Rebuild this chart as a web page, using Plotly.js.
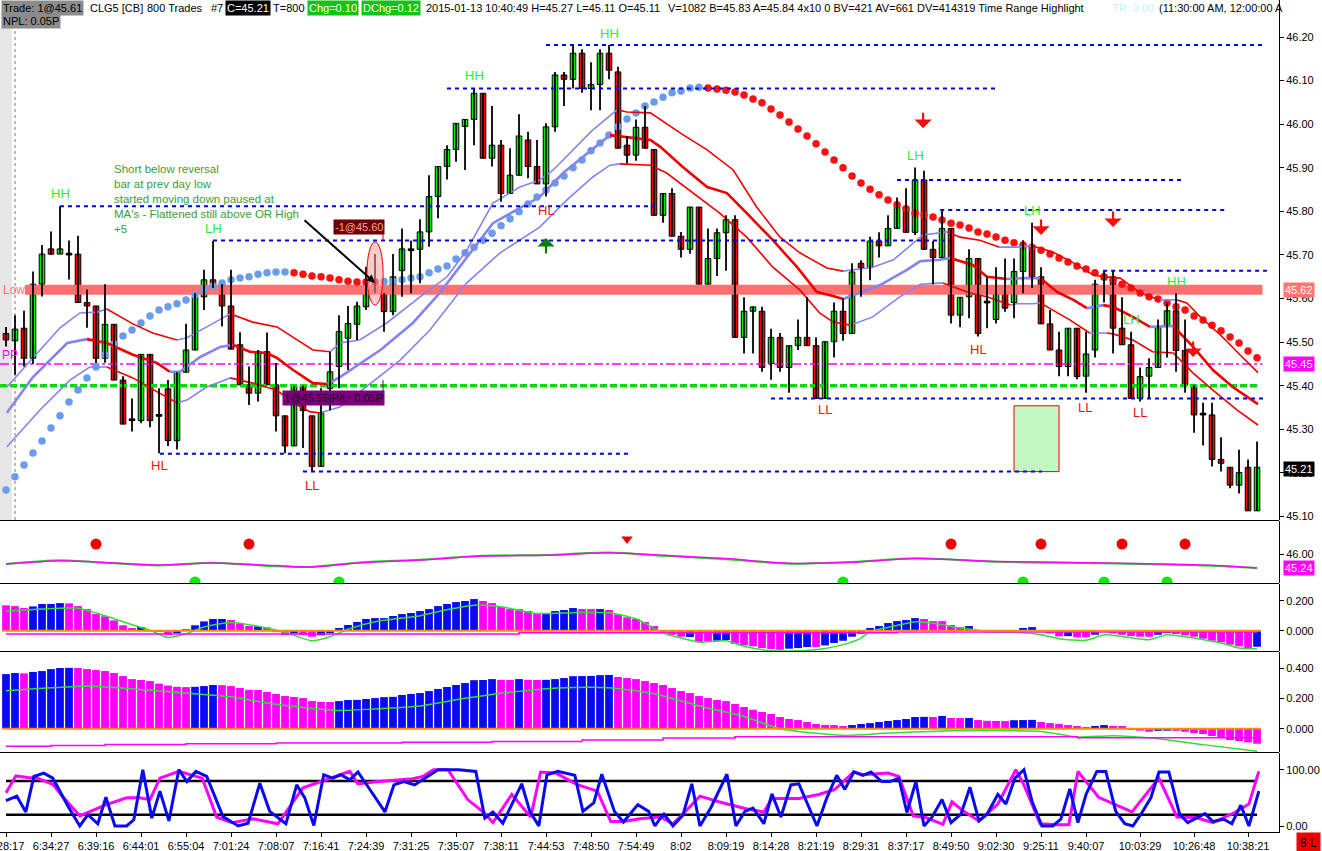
<!DOCTYPE html>
<html><head><meta charset="utf-8">
<script src="https://cdn.plot.ly/plotly-3.0.1.min.js"></script>
<style>html,body{margin:0;padding:0;background:#fff;overflow:hidden}#chart{width:1322px;height:851px}</style>
</head><body><div id="chart"></div>
<script>
// ---------------- DATA ----------------
const open = [45.52,45.503,45.532,45.463,45.633,45.714,45.702,45.70,45.702,45.591,45.583,45.463,45.541,45.413,45.32,45.32,45.472,45.33,45.393,45.274,45.431,45.482,45.604,45.643,45.633,45.583,45.494,45.402,45.383,45.478,45.402,45.331,45.262,45.40,45.331,45.215,
45.394,45.444,45.509,45.541,45.581,45.621,45.612,45.570,45.664,45.71,45.713,45.753,45.834,45.903,45.942,45.995,46.011,46.071,45.922,45.952,45.841,45.883,45.964,45.903,45.863,45.994,46.113,46.103,46.163,46.082,46.091,46.163,46.12,45.952,45.929,45.993,
45.942,45.791,45.841,45.743,45.713,45.81,45.633,45.692,45.751,45.781,45.511,45.571,45.571,45.451,45.511,45.442,45.492,45.511,45.492,45.371,45.501,45.571,45.52,45.681,45.671,45.732,45.721,45.761,45.81,45.752,45.872,45.713,45.694,45.761,45.562,
45.604,45.692,45.59,45.552,45.612,45.591,45.662,45.721,45.65,45.542,45.482,45.444,45.532,45.422,45.482,45.643,45.65,45.532,45.494,45.371,45.422,45.442,45.536,45.572,45.481,45.402,45.333,45.333,45.231,45.213,45.172,45.213,45.113];
const high = [45.535,45.562,45.572,45.662,45.723,45.754,45.812,45.733,45.744,45.621,45.583,45.633,45.541,45.422,45.371,45.472,45.472,45.394,45.413,45.431,45.542,45.612,45.666,45.732,45.633,45.666,45.523,45.444,45.482,45.522,45.452,45.331,45.40,45.40,45.331,45.394,
45.478,45.562,45.583,45.593,45.673,45.702,45.612,45.702,45.761,45.733,45.782,45.883,45.903,45.952,46.002,46.011,46.082,46.071,46.042,45.964,45.945,46.023,45.983,45.964,46.002,46.12,46.12,46.182,46.172,46.142,46.172,46.182,46.132,45.973,46.011,46.042,
45.942,45.841,45.853,45.753,45.81,45.81,45.761,45.761,45.791,45.791,45.603,45.581,45.581,45.531,45.521,45.492,45.552,45.603,45.511,45.501,45.591,45.60,45.681,45.688,45.742,45.752,45.791,45.832,45.853,45.901,45.893,45.732,45.803,45.761,45.603,
45.713,45.692,45.65,45.672,45.692,45.692,45.734,45.774,45.672,45.574,45.524,45.532,45.532,45.524,45.643,45.664,45.664,45.603,45.524,45.442,45.463,45.552,45.591,45.612,45.552,45.402,45.361,45.361,45.282,45.213,45.253,45.231,45.272];
const low = [45.49,45.425,45.444,45.45,45.605,45.70,45.702,45.644,45.591,45.533,45.452,45.453,45.413,45.312,45.295,45.314,45.305,45.245,45.262,45.254,45.431,45.482,45.574,45.624,45.536,45.484,45.402,45.356,45.364,45.402,45.295,45.245,45.262,45.257,45.203,45.215,
45.344,45.394,45.436,45.505,45.574,45.612,45.524,45.562,45.604,45.612,45.635,45.719,45.784,45.873,45.914,45.895,45.952,45.922,45.903,45.822,45.841,45.883,45.876,45.863,45.834,45.983,46.042,46.082,46.072,46.032,46.032,46.103,45.945,45.91,45.916,45.945,
45.791,45.774,45.743,45.694,45.703,45.633,45.633,45.652,45.664,45.511,45.474,45.474,45.432,45.414,45.432,45.384,45.482,45.492,45.371,45.371,45.465,45.503,45.52,45.604,45.642,45.694,45.721,45.761,45.752,45.746,45.713,45.633,45.694,45.543,45.534,
45.555,45.513,45.532,45.543,45.57,45.555,45.612,45.624,45.542,45.482,45.422,45.422,45.415,45.384,45.465,45.591,45.474,45.494,45.371,45.364,45.371,45.442,45.465,45.432,45.384,45.292,45.263,45.215,45.203,45.165,45.153,45.113,45.113];
const close = [45.505,45.53,45.463,45.633,45.702,45.702,45.714,45.70,45.591,45.583,45.463,45.541,45.413,45.312,45.32,45.472,45.32,45.33,45.274,45.431,45.482,45.604,45.643,45.633,45.583,45.484,45.402,45.383,45.478,45.402,45.331,45.262,45.40,45.343,45.215,45.338,
45.432,45.524,45.543,45.583,45.612,45.612,45.570,45.650,45.714,45.71,45.753,45.834,45.903,45.942,46.002,46.011,46.071,45.922,45.952,45.841,45.883,45.973,45.903,45.863,45.994,46.113,46.103,46.163,46.082,46.091,46.163,46.124,45.945,45.929,45.993,45.945,
45.791,45.841,45.743,45.713,45.81,45.633,45.692,45.751,45.781,45.511,45.571,45.581,45.442,45.511,45.442,45.492,45.511,45.492,45.371,45.501,45.571,45.52,45.661,45.671,45.732,45.721,45.761,45.81,45.752,45.872,45.713,45.694,45.761,45.562,45.603,
45.692,45.52,45.59,45.612,45.578,45.662,45.721,45.65,45.542,45.482,45.444,45.532,45.421,45.473,45.633,45.654,45.532,45.494,45.371,45.421,45.442,45.536,45.572,45.481,45.402,45.333,45.333,45.231,45.222,45.172,45.201,45.113,45.213];

const tickBars = [1,6,11,16,21,26,31,36,41,46,51,56,61,66,71,76,81,86,91,96,101,106,111,116,121,127,133,139];
const tickLabels = ['6:28:17','6:34:27','6:39:16','6:44:01','6:55:04','7:01:24','7:08:07','7:16:41','7:24:39','7:31:25','7:35:07','7:38:11','7:44:53','7:48:50','7:54:49','8:02','8:09:19','8:14:28','8:21:19','8:29:31','8:37:17','8:49:50','9:02:30','9:25:11','9:40:07','10:03:29','10:26:48','10:38:21'];
const priceTicks = [45.10,45.20,45.30,45.40,45.50,45.60,45.70,45.80,45.90,46.00,46.10,46.20];

// dotted moving average (one value per bar)
const dotMA = [45.161,45.191,45.218,45.246,45.273,45.303,45.331,45.363,45.390,45.418,
45.443,45.471,45.496,45.514,45.528,45.544,45.560,45.574,45.581,45.588,
45.597,45.608,45.620,45.629,45.636,45.643,45.647,45.650,45.656,45.659,
45.661,45.661,45.659,45.656,45.652,45.650,45.647,45.643,45.640,45.638,
45.638,45.638,45.639,45.640,45.643,45.647,45.650,45.659,45.668,45.675,
45.691,45.705,45.718,45.734,45.750,45.767,45.783,45.799,45.817,45.833,
45.849,45.865,45.881,45.900,45.918,45.939,45.957,45.975,45.994,46.012,
46.026,46.042,46.051,46.062,46.072,46.076,46.083,46.085,46.083,46.081,
46.078,46.074,46.067,46.058,46.049,46.035,46.021,46.005,45.989,45.973,
45.955,45.936,45.918,45.900,45.881,45.865,45.851,45.838,45.826,45.815,
45.806,45.796,45.792,45.787,45.780,45.773,45.769,45.762,45.753,45.748,
45.741,45.734,45.728,45.723,45.718,45.711,45.702,45.693,45.684,45.675,
45.668,45.659,45.650,45.643,45.633,45.624,45.613,45.604,45.599,45.590,
45.581,45.574,45.560,45.551,45.539,45.526,45.512,45.498,45.480,45.464];

// envelope lines (bar, price)
const upX = [1.1,4.0,7.0,9.2,11.1,12.2,15.1,17.3,20.0,21.1,23.3,25.9,28.4,31.1,33.7,35.1,37.0,38.1,40.3,43.3,47.0,50.0,52.2,55.1,58.1,60.3,61.8,64.0,66.2,68.9,70.0,72.6,73.7,75.9,78.9,81.8,84.4,87.0,89.2,92.2,94.0,97.3,99.6,102.9,105.6,107.0,109.2,111.4,113.3,115.0,117.3,119.6,121.8,122.9,124.8,127.0,129.2,131.1,132.2,133.7,135.9,138.1,140.1];
const upY = [45.397,45.464,45.533,45.567,45.569,45.576,45.542,45.521,45.505,45.510,45.535,45.565,45.546,45.535,45.500,45.482,45.478,45.498,45.505,45.544,45.604,45.650,45.711,45.819,45.856,45.872,45.895,45.941,45.987,46.033,46.028,46.026,46.010,45.980,45.941,45.895,45.810,45.741,45.705,45.670,45.663,45.672,45.689,45.746,45.753,45.741,45.734,45.718,45.718,45.721,45.707,45.682,45.654,45.650,45.647,45.613,45.597,45.597,45.590,45.558,45.517,45.471,45.430];
const midX = [1.1,4.0,7.8,10.0,12.2,15.1,17.8,19.2,20.3,22.6,24.8,26.2,28.1,30.0,31.1,32.9,35.1,36.7,38.1,42.6,46.2,49.2,52.2,55.1,58.1,60.3,62.9,65.6,68.1,72.6,73.7,76.2,78.9,81.1,83.3,86.2,88.9,91.1,92.9,94.0,98.1,101.1,102.6,104.8,105.9,108.4,110.0,112.2,114.0,115.9,117.8,119.6,121.1,122.9,124.0,126.2,128.1,130.0,130.7,132.9,135.1,137.3,140.1];
const midY = [45.338,45.420,45.498,45.507,45.498,45.471,45.452,45.432,45.432,45.466,45.489,45.494,45.478,45.475,45.464,45.436,45.406,45.404,45.420,45.482,45.544,45.613,45.695,45.773,45.808,45.833,45.888,45.934,45.975,45.964,45.948,45.902,45.856,45.842,45.796,45.734,45.672,45.615,45.606,45.599,45.631,45.666,45.686,45.689,45.693,45.677,45.650,45.645,45.647,45.647,45.615,45.597,45.578,45.585,45.581,45.558,45.535,45.537,45.537,45.489,45.436,45.397,45.358];
const lowX = [1.1,4.8,8.1,10.3,12.2,15.1,17.8,20.0,21.1,23.3,25.9,28.4,31.1,32.9,34.8,35.9,38.1,40.3,44.8,48.1,52.2,55.9,60.3,63.3,66.2,68.1,69.2,72.6,74.4,77.3,80.3,83.3,86.2,89.2,91.4,92.9,94.8,97.3,100.3,102.6,105.1,106.2,108.1,110.0,112.6,113.3,115.1,115.9,117.3,119.2,121.4,123.3,124.0,126.2,128.4,130.7,132.9,135.1,137.8,140.1];
const lowY = [45.260,45.345,45.413,45.443,45.443,45.418,45.386,45.361,45.367,45.397,45.418,45.406,45.390,45.361,45.340,45.338,45.351,45.386,45.459,45.528,45.636,45.705,45.764,45.826,45.879,45.906,45.909,45.906,45.888,45.842,45.796,45.741,45.672,45.620,45.567,45.546,45.539,45.558,45.604,45.633,45.636,45.627,45.613,45.604,45.585,45.588,45.588,45.590,45.574,45.551,45.521,45.521,45.519,45.505,45.478,45.475,45.429,45.390,45.344,45.310];

// swing levels
const lvlPrice = [45.812,45.733,45.244,45.203,46.182,46.082,45.872,45.803,45.664,45.371];
const lvlFrom  = [7.0,24.0,18.1,34.0,61.0,50.0,100.0,104.8,122.9,86.0];
const lvlTo    = [73.1,105.9,70.1,116.1,140.6,111.1,131.8,136.8,141.1,141.1];
const lowLevel = 45.62, ppLevel = 45.45, orHigh = 45.40, lastPrice = 45.21;

const swingText  = ['HH','HL','LH','LL','HH','HL','HH','LH','LL','HL','LH','LL','LH','LL','HH'];
const swingBar   = [7.1,18.0,24.0,35.0,53.0,61.0,68.0,102.0,92.0,109.0,115.0,120.9,126.1,127.0,131.0];
const swingPrice = [45.842,45.216,45.760,45.172,46.111,45.803,46.209,45.929,45.345,45.484,45.801,45.351,45.551,45.338,45.640];
const downArrowBar = [102.9,116,124,132.9];
const downArrowPrice = [45.991,45.746,45.764,45.466];
const upArrowBar = [61], upArrowPrice = [45.739];

// panel 2
const p2Bars = [1,7,11,18,24,31,35,40,47,54,61,68,74,81,88,95,102,111,121,128,135,140];
const p2Mag = [45.46,45.64,45.57,45.40,45.51,45.37,45.29,45.51,45.67,45.89,45.93,46.07,45.93,45.75,45.50,45.55,45.75,45.60,45.53,45.47,45.39,45.24];
const p2Grn = [45.46,45.66,45.55,45.38,45.53,45.33,45.30,45.53,45.69,45.90,45.95,46.08,45.91,45.72,45.47,45.57,45.77,45.58,45.51,45.45,45.36,45.24];
const p2RedBars = [11,28,106,116,125,132], p2RedVal = 46.54;
const p2RedTriBar = [70], p2RedTriVal = 46.81;
const p2GreenBars = [22,38,94,114,123,130], p2GreenVal = 44.48;

// panel 3 histogram
const p3Val = [.169,.164,.151,.162,.178,.178,.184,.182,.164,.144, .111,.096,.069,.036,.018,.024,-.004,-.009,-.027,-.016, .009,.036,.062,.078,.078,.071,.049,.031,.029,.022, -.009,-.027,-.018,-.027,-.040,-.031,-.016,.018,.038,.058, .078,.084,.084,.098,.111,.118,.131,.144,.164,.178, .191,.198,.211,.198,.184,.158,.144,.144,.131,.111, .118,.131,.138,.151,.144,.144,.144,.138,.111,.089, .078,.058,.031,-.010,-.027,-.040,-.042,-.076,-.071,-.067, -.062,-.089,-.098,-.104,-.116,-.122,-.127,-.120,-.116,-.109, -.109,-.098,-.082,-.067,-.040,-.020,.018,.031,.051,.064, .071,.084,.078,.064,.064,.038,.024,.031,-.004,-.011, -.011,-.011,-.004,.018,.024,-.004,-.018,-.038,-.036,-.044, -.044,-.027,-.007,-.018,-.027,-.036,-.040,-.040,-.027,-.016, -.022,-.031,-.040,-.053,-.067,-.078,-.093,-.104,-.116,-.107];
const p3Dir = [-1,-1,-1,1,1,1,1,-1,-1,-1, -1,-1,-1,-1,-1,1,-1,-1,-1,1, 1,1,1,1,1,-1,-1,-1,1,-1, -1,-1,1,-1,-1,1,1,1,1,1, 1,1,1,1,1,1,1,1,1,1, 1,1,1,-1,-1,-1,-1,-1,-1,-1, 1,1,1,1,-1,-1,1,-1,-1,-1, -1,-1,-1,-1,-1,-1,1,-1,-1,1, 1,-1,-1,-1,-1,-1,-1,1,1,1, -1,1,1,1,1,1,1,1,1,1, 1,1,-1,-1,-1,-1,-1,1,-1,-1, 1,-1,-1,1,1,-1,-1,-1,1,-1, -1,1,-1,-1,-1,-1,-1,-1,1,1, -1,-1,-1,-1,-1,-1,-1,-1,-1,1];
const p3SigBar = [1,5,9,12,15,17,19,21,23,26,29,32,35,37,39,42,47,50,53,56,60,64,68,71,72,73,74,76,78,81,83,86,89,91,94,96,97,100,102,104,107,110,113,116,118,121,123,125,128,130,132,136,138,140];
const p3Sig = [.13,.145,.15,.10,.04,.003,-.045,-.02,.025,.055,.03,-.01,-.067,-.04,.01,.06,.10,.14,.17,.16,.115,.12,.12,.08,.05,.015,-.016,-.049,-.076,-.067,-.104,-.133,-.133,-.127,-.093,-.049,-.006,.035,.06,.05,.02,-.005,-.01,-.027,-.053,-.064,-.027,-.038,-.06,-.027,-.04,-.082,-.116,-.12];
const p3MaBar = [1,58,100,140], p3Ma = [-.022,-.013,-.009,-.010];

// panel 4 histogram
const p4Val = [.360,.367,.365,.374,.380,.393,.400,.401,.400,.393, .387,.380,.367,.347,.327,.321,.314,.297,.284,.276, .274,.276,.281,.288,.287,.281,.268,.256,.255,.242, .229,.215,.209,.202,.182,.177,.176,.182,.189,.190, .196,.202,.208,.210,.222,.229,.235,.248,.262,.275, .288,.301,.320,.321,.327,.322,.321,.327,.322,.321, .322,.327,.334,.346,.347,.348,.353,.354,.341,.334, .327,.314,.301,.288,.268,.248,.235,.215,.202,.189, .182,.163,.143,.125,.110,.097,.077,.064,.057,.044, .031,.025,.024,.018,.024,.031,.037,.044,.051,.057, .064,.077,.078,.077,.084,.071,.070,.071,.057,.052, .051,.050,.056,.057,.058,.044,.037,.031,.024,.018, .011,.018,.024,.019,.018,-.009,-.013,-.020,-.014,-.013, -.014,-.020,-.029,-.035,-.048,-.062,-.075,-.081,-.090,-.099];
const p4Dir = [1,1,-1,1,1,1,1,1,-1,-1, -1,-1,-1,-1,-1,-1,-1,-1,-1,-1, -1,1,1,1,-1,-1,-1,-1,-1,-1, -1,-1,-1,-1,-1,-1,-1,1,1,1, 1,1,1,1,1,1,1,1,1,1, 1,1,1,1,1,-1,-1,1,-1,-1, 1,1,1,1,1,1,1,1,-1,-1, -1,-1,-1,-1,-1,-1,-1,-1,-1,-1, -1,-1,-1,-1,-1,-1,-1,-1,-1,-1, -1,-1,-1,-1,1,1,1,1,1,1, 1,1,1,-1,1,-1,-1,1,-1,-1, -1,-1,1,1,1,-1,-1,-1,-1,-1, -1,1,1,-1,-1,-1,-1,-1,1,1, -1,-1,-1,-1,-1,-1,-1,-1,-1,-1];
const p4SigBar = [1,10,20,26,30,34,38,42,47,52,57,63,68,73,78,83,87,94,99,106,116,120,124,129,134,140];
const p4Sig = [.25,.28,.24,.21,.17,.14,.12,.13,.15,.20,.24,.27,.27,.23,.15,.08,0,-.044,-.029,-.013,-.018,-.055,-.046,-.066,-.105,-.149];
const p4MaBar = [1,6,12,21,31,45,55,65,74,82,100,120,140];
const p4Ma = [-.116,-.11,-.104,-.10,-.095,-.09,-.085,-.075,-.062,-.053,-.053,-.06,-.062];

// panel 5 stochastic
const stochKBar = [0.99,2.2,3.2,4.1,5.2,6.2,8.0,9.2,10.1,11.2,12.1,13.1,14.4,15.2,16.2,17.2,18.1,19.1,20.2,21.1,22.1,23.3,25.1,26.8,27.9,29.2,30.3,31.3,32.1,33.3,34.2,35.2,36.3,37.3,38.2,39.2,40.1,41.3,43.1,44.1,45.2,46.4,47.3,49,49.9,51.3,53.2,54.2,55.1,56.2,58.3,59.2,60.2,61.1,62.3,64.2,65.1,66.3,67.2,68.6,69.6,71.2,72.4,73.1,
73.7,74.1,75.1,76.2,77.2,78.1,79.3,81.1,82.1,83.1,84,85.2,86.1,87.1,88.2,89.1,91.1,92.2,93.3,94.2,95.2,96.2,97.1,98.3,99.2,100.2,101.1,102.1,103,103.9,105,106,107.1,108.1,109.1,110,111.2,112.1,113.1,114.1,115,116.1,117.3,118.2,119.2,120.1,121,122.2,123.2,124.3,125.3,126.2,127.1,128.2,129.1,130.2,131.4,132.3,134.2,135.1,136.3,137.2,138.2,139.1,140.2];
const stochK = [45,53,25,88,94,85,32,0,20,4,51,0,0,11,100,14,62,9,100,79,97,88,17,0,5,76,26,14,4,73,50,1,91,85,91,82,96,68,25,73,79,73,82,100,100,100,97,14,25,5,75,26,0,91,97,90,26,41,92,26,7,38,26,0,
14,21,0,19,75,0,32,92,0,26,32,4,57,16,73,75,0,50,90,65,96,90,96,79,79,85,24,79,0,16,47,6,21,69,9,21,56,39,85,100,44,0,0,12,66,6,56,97,97,26,4,0,21,50,96,96,21,6,22,8,12,4,37,0,62];
const stochDBar = [1,2.1,3.4,4.5,6.2,7.4,9.2,10.4,12,14.4,15.8,17,18.1,20.2,22.8,24.4,26.1,28.4,31.2,34,35.9,39.2,40.1,42.4,46.2,47.3,48.5,50.1,52.3,54.1,55.1,57.2,59.3,60.4,62.1,64.4,66.7,68.2,69.6,71.4,73.7,
75.1,76.2,78.1,80.2,83.1,85.2,86.1,89.1,91.3,93.1,95.2,96.2,99,100.2,101.8,103.2,105.1,106.1,107.4,109.1,111.2,113.2,114.1,115.9,117.8,119.1,120.1,122.4,124.3,126.1,129.1,131.1,133.2,135.1,136.3,137.5,139.1,140.2];
const stochD = [59,89,86,85,74,50,18,26,37,50,50,47,85,97,85,16,6,13,4,68,79,97,75,79,84,88,100,100,47,24,6,56,16,96,94,74,62,8,8,13,16,
4,21,53,43,31,25,49,49,56,65,96,91,94,88,18,15,3,43,26,9,39,100,73,4,2,2,97,51,38,25,85,16,15,6,15,24,39,97];
const stochHi = 80, stochLo = 20;

// ---------------- BUILD ----------------
const FONT = 'Liberation Sans, Arial, sans-serif';
const W = 1279, H = 832;
const px = p => p / W, py = p => 1 - p / H;
const BLUE_MA = '#8484f0', RED = '#ee0000', DOT_BLUE = '#6a9cec', DOT_RED = '#ff1010';
const HB = '#0a0af0', HM = '#ff00ff';
const bars = open.map((_, i) => i + 1);
const traces = [];

// horizontal reference levels (behind)
traces.push({x:[3.1,140.6], y:[lowLevel,lowLevel], mode:'lines', line:{color:'rgba(255,105,105,0.95)', width:10}, hoverinfo:'skip'});
traces.push({x:[0.34,140.6], y:[ppLevel,ppLevel], mode:'lines', line:{color:'#ff00ff', width:1.5, dash:'dashdot'}, hoverinfo:'skip'});
traces.push({x:[0.34,140.3], y:[orHigh,orHigh], mode:'lines', line:{color:'#00dd00', width:3.5, dash:'7px,3px'}, hoverinfo:'skip'});

// dotted MA
let prevC = DOT_BLUE;
const dotColors = dotMA.map((v, i) => { if (i > 0) { if (v > dotMA[i-1]) prevC = DOT_BLUE; else if (v < dotMA[i-1]) prevC = DOT_RED; } return prevC; });
traces.push({x:bars, y:dotMA, mode:'markers', marker:{size:7.5, color:dotColors}, hoverinfo:'skip'});

// envelope lines coloured by slope
function coloredLine(xs, ys, width) {
  let seg = null, segColor = null;
  const flush = () => { if (seg) traces.push({x:seg.x, y:seg.y, mode:'lines', line:{color:segColor, width:width}, hoverinfo:'skip'}); };
  for (let k = 0; k < xs.length - 1; k++) {
    const c = ys[k+1] >= ys[k] ? BLUE_MA : RED;
    if (c !== segColor) { flush(); seg = {x:[xs[k]], y:[ys[k]]}; segColor = c; }
    seg.x.push(xs[k+1]); seg.y.push(ys[k+1]);
  }
  flush();
}
coloredLine(upX, upY, 1.6);
coloredLine(lowX, lowY, 1.6);
coloredLine(midX, midY, 2.6);

// candles: wicks + bodies
const wx = [], wy = [];
bars.forEach((b, i) => { wx.push(b, b, null); wy.push(low[i], high[i], null); });
traces.push({x:wx, y:wy, mode:'lines', line:{color:'#000', width:1.8}, hoverinfo:'skip'});
traces.push({type:'bar', x:bars, base:bars.map((_, i) => Math.min(open[i], close[i])),
  y:bars.map((_, i) => Math.max(Math.abs(close[i] - open[i]), 0.004)),
  width:0.62, marker:{color:bars.map((_, i) => close[i] > open[i] ? '#00ee00' : (close[i] < open[i] ? '#ff0000' : '#000')), line:{color:'#000', width:1}}, hoverinfo:'skip'});

// swing level dashed lines
const lx = [], ly = [];
lvlPrice.forEach((p, i) => { lx.push(lvlFrom[i], lvlTo[i], null); ly.push(p, p, null); });
traces.push({x:lx, y:ly, mode:'lines', line:{color:'#0000e0', width:2, dash:'4px,4px'}, hoverinfo:'skip'});

// ---- panel 2
traces.push({x:p2Bars, y:p2Grn, yaxis:'y2', mode:'lines', line:{color:'#22dd22', width:2, shape:'spline', smoothing:0.7}, hoverinfo:'skip'});
traces.push({x:p2Bars, y:p2Mag, yaxis:'y2', mode:'lines', line:{color:'#ff00ff', width:1.5, shape:'spline', smoothing:0.7}, hoverinfo:'skip'});
traces.push({x:p2RedBars, y:p2RedBars.map(() => p2RedVal), yaxis:'y2', mode:'markers', marker:{size:11, color:'#ee0000'}, hoverinfo:'skip'});
traces.push({x:p2RedTriBar, y:p2RedTriBar.map(() => p2RedTriVal), yaxis:'y2', mode:'markers', marker:{size:10, color:'#ee0000', symbol:'triangle-down'}, hoverinfo:'skip'});
traces.push({x:p2GreenBars, y:p2GreenBars.map(() => p2GreenVal), yaxis:'y2', mode:'markers', marker:{size:11, color:'#00ee00'}, hoverinfo:'skip', cliponaxis:true});

// ---- panel 3
traces.push({x:p3SigBar, y:p3Sig, yaxis:'y3', mode:'lines', line:{color:'#33dd33', width:1.5, shape:'spline', smoothing:0.6}, hoverinfo:'skip'});
traces.push({type:'bar', x:bars, y:p3Val, yaxis:'y3', width:0.86, marker:{color:p3Dir.map(d => d > 0 ? HB : HM), line:{width:0}}, hoverinfo:'skip'});
traces.push({x:p3MaBar, y:p3Ma, yaxis:'y3', mode:'lines', line:{color:'#ff00ff', width:1.5, shape:'hv'}, hoverinfo:'skip'});
traces.push({x:[0.6,140.4], y:[0,0], yaxis:'y3', mode:'lines', line:{color:'#ff8c00', width:2}, hoverinfo:'skip'});

// ---- panel 4
traces.push({x:p4SigBar, y:p4Sig, yaxis:'y4', mode:'lines', line:{color:'#33dd33', width:1.5, shape:'spline', smoothing:0.6}, hoverinfo:'skip'});
traces.push({type:'bar', x:bars, y:p4Val, yaxis:'y4', width:0.86, marker:{color:p4Dir.map(d => d > 0 ? HB : HM), line:{width:0}}, hoverinfo:'skip'});
traces.push({x:p4MaBar, y:p4Ma, yaxis:'y4', mode:'lines', line:{color:'#ff00ff', width:1.5, shape:'hv'}, hoverinfo:'skip'});
traces.push({x:[0.6,140.4], y:[0,0], yaxis:'y4', mode:'lines', line:{color:'#ff8c00', width:2}, hoverinfo:'skip'});

// ---- panel 5
traces.push({x:[1,140], y:[stochHi,stochHi], yaxis:'y5', mode:'lines', line:{color:'#000', width:2.5}, hoverinfo:'skip'});
traces.push({x:[1,140], y:[stochLo,stochLo], yaxis:'y5', mode:'lines', line:{color:'#000', width:2.5}, hoverinfo:'skip'});
traces.push({x:stochDBar, y:stochD, yaxis:'y5', mode:'lines', line:{color:'#ff00ff', width:3}, hoverinfo:'skip'});
traces.push({x:stochKBar, y:stochK, yaxis:'y5', mode:'lines', line:{color:'#0a0af0', width:3}, hoverinfo:'skip'});

// ---------------- ANNOTATIONS ----------------
const ann = [];
const hdr = (x, y, text, color, bg) => ann.push({xref:'paper', yref:'paper', x:px(x), y:py(y), xanchor:'left', yanchor:'middle', text:text, showarrow:false, font:{family:FONT, size:11, color:color || '#000'}, bgcolor:bg || 'rgba(0,0,0,0)', borderpad:1});
hdr(1, 8, 'Trade: 1@45.61', '#000', '#8c8c8c');
hdr(88, 8, 'CLG5 [CB]');
hdr(145, 8, '800 Trades');
hdr(209, 8, '#7');
hdr(225, 8, 'C=45.21', '#fff', '#000');
hdr(271, 8, 'T=800');
hdr(307, 8, 'Chg=0.10', '#fff', '#12c412');
hdr(361, 8, 'DChg=0.12', '#fff', '#12c412');
hdr(424, 8, '2015-01-13 10:40:49 H=45.27 L=45.11 O=45.11');
hdr(666, 8, 'V=1082 B=45.83 A=45.84 4x10 0 BV=421 AV=661 DV=414319 Time Range Highlight');
hdr(1110, 8, 'TR: 0.00', '#c4efff');
hdr(1157, 8, '(11:30:00 AM, 12:00:00 A');
hdr(1, 21, 'NPL: 0.05P', '#000', '#8c8c8c');

// swing labels
swingText.forEach((t, i) => ann.push({x:swingBar[i], y:swingPrice[i], xref:'x', yref:'y', text:t, showarrow:false,
  font:{family:FONT, size:13, color:(t === 'HH' || t === 'LH') ? '#2cee2c' : '#ee1111'}}));
// arrows
downArrowBar.forEach((b, i) => ann.push({x:b, y:downArrowPrice[i], xref:'x', yref:'y', text:'', showarrow:true, ax:0, ay:-17, arrowhead:1, arrowsize:1.3, arrowwidth:2.2, arrowcolor:'#ee1111'}));
upArrowBar.forEach((b, i) => ann.push({x:b, y:upArrowPrice[i], xref:'x', yref:'y', text:'', showarrow:true, ax:0, ay:17, arrowhead:1, arrowsize:1.3, arrowwidth:2.2, arrowcolor:'#0a7a0a'}));
// comment arrow
ann.push({x:42, y:45.636, xref:'x', yref:'y', text:'', showarrow:true, ax:-72, ay:-64, arrowhead:2, arrowsize:0.8, arrowwidth:2, arrowcolor:'#000'});
// comment text
ann.push({xref:'paper', yref:'paper', x:px(112), y:py(161), xanchor:'left', yanchor:'top', align:'left', showarrow:false,
  text:"Short below reversal<br>bar at prev day low<br>started moving down paused at<br>MA's - Flattened still above OR High<br>+5",
  font:{family:FONT, size:11.5, color:'#3a9d3a'}});
// trade labels
ann.push({xref:'paper', yref:'paper', x:px(385), y:py(227), xanchor:'right', yanchor:'middle', text:'-1@45.60', showarrow:false, font:{family:FONT, size:11, color:'#ffa4a4'}, bgcolor:'#6a0000', borderpad:1});
ann.push({xref:'paper', yref:'paper', x:px(385), y:py(398), xanchor:'right', yanchor:'middle', text:'1@45.55|P/L: 0.05P', showarrow:false, font:{family:FONT, size:11, color:'#1a001a'}, bgcolor:'#7d007d', borderpad:1});
// left level labels
ann.push({xref:'paper', yref:'y', x:px(1), y:lowLevel, xanchor:'left', yanchor:'middle', text:'Low', showarrow:false, font:{family:FONT, size:12, color:'#ff7070'}});
ann.push({xref:'paper', yref:'paper', x:px(0), y:py(355), xanchor:'left', yanchor:'middle', text:'PP', showarrow:false, font:{family:FONT, size:12, color:'#ff00ff'}});
// right value boxes
const rbox = (yref, v, bg) => ann.push({xref:'paper', yref:yref, x:px(1283), y:v, xanchor:'left', yanchor:'middle', text:v.toFixed(2), showarrow:false, font:{family:FONT, size:11, color:'#fff'}, bgcolor:bg, borderpad:1});
rbox('y', lowLevel, '#ff7474');
rbox('y', ppLevel, '#ff00ff');
rbox('y', lastPrice, '#000');
rbox('y2', 45.24, '#ff00ff');
ann.push({xref:'paper', yref:'paper', x:px(1296), y:py(843), xanchor:'left', yanchor:'middle', text:'8 L', showarrow:false, font:{family:FONT, size:12, color:'#000'}, bgcolor:'#ee0000', borderpad:3});

// ---------------- SHAPES ----------------
const shapes = [
  {type:'rect', xref:'paper', yref:'paper', x0:0, x1:px(12), y0:py(520), y1:py(28), fillcolor:'#e6e6e6', line:{width:0}, layer:'below'},
  {type:'line', xref:'paper', yref:'paper', x0:px(15), x1:px(15), y0:py(520), y1:py(28), line:{color:'#777', width:1, dash:'3px,3px'}, layer:'below'},
  {type:'rect', xref:'x', yref:'y', x0:113, x1:118, y0:45.203, y1:45.354, fillcolor:'#c2f7c2', line:{color:'#ee0000', width:1}, layer:'below'},
  {type:'circle', xref:'x', yref:'y', x0:41.1, x1:42.9, y0:45.585, y1:45.73, fillcolor:'rgba(255,160,160,0.55)', line:{color:'#ee0000', width:1}},
  {type:'line', xref:'paper', yref:'paper', x0:px(383), x1:px(383), y0:py(241), y1:py(233), line:{color:'#cc0000', width:1}},
  {type:'line', xref:'paper', yref:'paper', x0:px(383), x1:px(383), y0:py(392), y1:py(380), line:{color:'#800080', width:1}}
];
[520.5, 583.5, 651.5, 752.5].forEach(y => shapes.push({type:'line', xref:'paper', yref:'paper', x0:0, x1:1, y0:py(y), y1:py(y), line:{color:'#000', width:1}}));

const yBase = {side:'right', anchor:'x', showgrid:false, zeroline:false, showline:true, linecolor:'#000', linewidth:1, ticks:'outside', ticklen:4, tickcolor:'#000', tickfont:{family:FONT, size:11, color:'#000'}, fixedrange:true, tickmode:'array'};
const layout = {
  width:1322, height:851, margin:{l:0, r:43, t:0, b:19, pad:0},
  paper_bgcolor:'#fff', plot_bgcolor:'#fff', showlegend:false, barmode:'overlay',
  font:{family:FONT, size:11, color:'#000'},
  xaxis:{domain:[0,1], range:[0.333,142.44], anchor:'y5', tickmode:'array', tickvals:tickBars, ticktext:tickLabels, ticks:'outside', ticklen:4, tickcolor:'#000',
    showline:true, linecolor:'#000', showgrid:false, zeroline:false, ticklabeloverflow:'allow', tickfont:{family:FONT, size:11, color:'#000'}, fixedrange:true},
  yaxis:Object.assign({}, yBase, {domain:[py(520),1], range:[45.092,46.285], tickvals:priceTicks, ticktext:priceTicks.map(v => v.toFixed(2))}),
  yaxis2:Object.assign({}, yBase, {domain:[py(583),py(521)], range:[44.426,47.792], tickvals:[46], ticktext:['46.00']}),
  yaxis3:Object.assign({}, yBase, {domain:[py(651),py(584)], range:[-0.1353,0.3113], tickvals:[0,0.2], ticktext:['0.000','0.200']}),
  yaxis4:Object.assign({}, yBase, {domain:[py(752),py(652)], range:[-0.1536,0.5056], tickvals:[0,0.2,0.4], ticktext:['0.000','0.200','0.400']}),
  yaxis5:Object.assign({}, yBase, {domain:[0,py(753)], range:[-10.66,129.7], tickvals:[0,100], ticktext:['0.00','100.00']}),
  annotations:ann, shapes:shapes
};
Plotly.newPlot('chart', traces, layout, {displayModeBar:false, staticPlot:true});
</script>
</body></html>
